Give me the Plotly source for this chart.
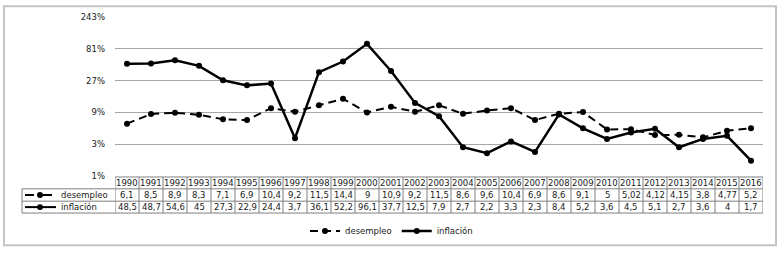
import plotly.graph_objects as go

years = list(range(1990, 2017))
desempleo = [6.1, 8.5, 8.9, 8.3, 7.1, 6.9, 10.4, 9.2, 11.5, 14.4, 9, 10.9, 9.2, 11.5,
             8.6, 9.6, 10.4, 6.9, 8.6, 9.1, 5, 5.02, 4.12, 4.15, 3.8, 4.77, 5.2]
inflacion = [48.5, 48.7, 54.6, 45, 27.3, 22.9, 24.4, 3.7, 36.1, 52.2, 96.1, 37.7, 12.5, 7.9,
             2.7, 2.2, 3.3, 2.3, 8.4, 5.2, 3.6, 4.5, 5.1, 2.7, 3.6, 4, 1.7]
tick_vals = [1, 3, 9, 27, 81, 243]
tick_text = ["1%", "3%", "9%", "27%", "81%", "243%"]

W, H = 783, 253
L, R, T, B = 115, 20, 15, 77
PW, PH = W - L - R, H - T - B
FONT = "DejaVu Sans"
TXT = "#1a1a1a"
GRID_TBL = "#7f7f7f"


def px(x):
    return (x - L) / PW


def py(y):
    return (H - B - y) / PH


def fmt(v):
    return f"{v:g}".replace(".", ",")


fig = go.Figure()
fig.add_trace(go.Scatter(
    x=years, y=desempleo, name="desempleo", mode="lines+markers",
    line=dict(color="black", width=2, dash="8px,5px"),
    marker=dict(color="black", size=6)))
fig.add_trace(go.Scatter(
    x=years, y=inflacion, name="inflación", mode="lines+markers",
    line=dict(color="black", width=2.5),
    marker=dict(color="black", size=6)))

shapes = []
annotations = []

# outer border
shapes.append(dict(type="rect", xref="paper", yref="paper",
                   x0=px(4), x1=px(776), y0=py(246), y1=py(4),
                   line=dict(color="#c4c4c4", width=2), layer="below"))

# table geometry (pixels)
y_top, y_h1, y_h2, y_bot = 177, 189, 201.5, 213.5
x_lab = 22
x0_tab, x1_tab = years[0] - 0.5, years[-1] + 0.5

# horizontal lines
shapes.append(dict(type="line", xref="x", yref="paper", x0=x0_tab, x1=x1_tab,
                   y0=py(y_top), y1=py(y_top), line=dict(color=GRID_TBL, width=1)))
for yy in (y_h1, y_h2, y_bot):
    shapes.append(dict(type="line", xref="paper", yref="paper", x0=px(x_lab), x1=1,
                       y0=py(yy), y1=py(yy), line=dict(color=GRID_TBL, width=1)))
# vertical lines
shapes.append(dict(type="line", xref="paper", yref="paper", x0=px(x_lab), x1=px(x_lab),
                   y0=py(y_h1), y1=py(y_bot), line=dict(color=GRID_TBL, width=1)))
for i in range(len(years) + 1):
    xv = years[0] - 0.5 + i
    shapes.append(dict(type="line", xref="x", yref="paper", x0=xv, x1=xv,
                       y0=py(y_top), y1=py(y_bot), line=dict(color=GRID_TBL, width=1)))

# table text
rows = [((y_top + y_h1) / 2, [str(y) for y in years]),
        ((y_h1 + y_h2) / 2, [fmt(v) for v in desempleo]),
        ((y_h2 + y_bot) / 2, [fmt(v) for v in inflacion])]
for yc, texts in rows:
    for yr, t in zip(years, texts):
        annotations.append(dict(x=yr, y=py(yc), xref="x", yref="paper", text=t,
                                showarrow=False, xanchor="center", yanchor="middle",
                                font=dict(family=FONT, size=8.5, color=TXT)))

# row label icons
for yc, dash, name in (((y_h1 + y_h2) / 2, "dash", "desempleo"),
                       ((y_h2 + y_bot) / 2, "solid", "inflación")):
    shapes.append(dict(type="line", xref="paper", yref="paper", x0=px(25), x1=px(56),
                       y0=py(yc), y1=py(yc), line=dict(color="black", width=2, dash=dash)))
    shapes.append(dict(type="circle", xref="paper", yref="paper",
                       x0=px(37), x1=px(43), y0=py(yc + 3), y1=py(yc - 3),
                       fillcolor="black", line=dict(color="black", width=0)))
    annotations.append(dict(x=px(59), y=py(yc), xref="paper", yref="paper", text=name,
                            showarrow=False, xanchor="left", yanchor="middle",
                            font=dict(family=FONT, size=8.5, color=TXT)))

fig.update_layout(
    width=W, height=H,
    margin=dict(l=L, r=R, t=T, b=B, pad=0),
    paper_bgcolor="white", plot_bgcolor="white",
    font=dict(family=FONT, size=9, color=TXT),
    xaxis=dict(range=[x0_tab, x1_tab], showticklabels=False, showgrid=False,
               zeroline=False, showline=False, ticks=""),
    yaxis=dict(type="log", range=[0, 2.3856], tickvals=tick_vals, ticktext=tick_text,
               showgrid=True, gridcolor="#a6a6a6", gridwidth=1, zeroline=False,
               showline=False, ticks="", ticklabelstandoff=9,
               tickfont=dict(family=FONT, size=8.5, color=TXT)),
    showlegend=True,
    legend=dict(orientation="h", xref="container", yref="container",
                x=0.5, y=1 - 231 / H, xanchor="center", yanchor="middle",
                font=dict(family=FONT, size=8.5, color=TXT),
                bgcolor="rgba(0,0,0,0)", itemwidth=30),
    shapes=shapes, annotations=annotations,
)

fig.write_html("out.html")
